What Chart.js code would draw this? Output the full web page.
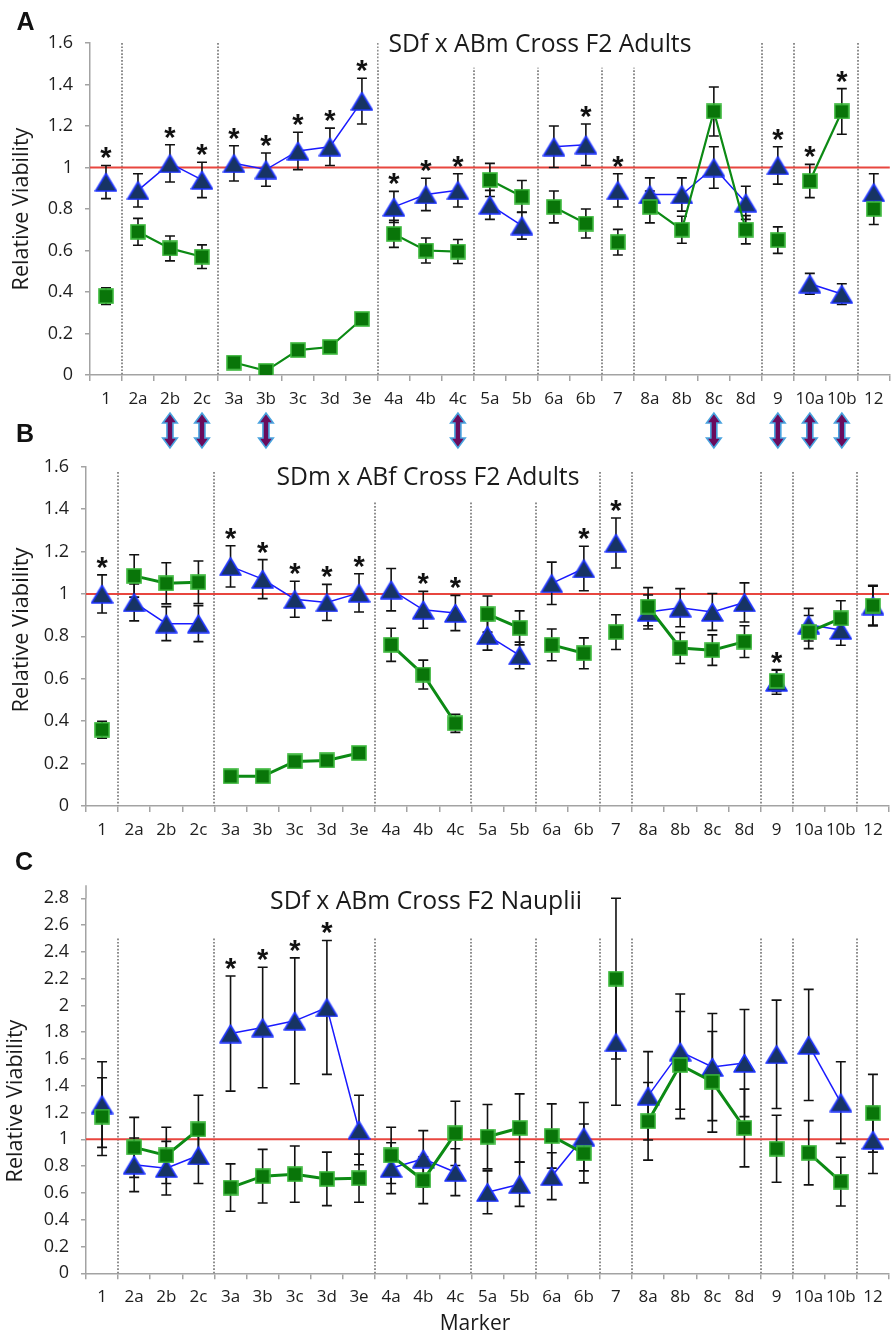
<!DOCTYPE html>
<html><head><meta charset="utf-8">
<script src="https://cdn.jsdelivr.net/npm/chart.js@4.4.0/dist/chart.umd.min.js"></script>
<style>
html,body{margin:0;padding:0;background:#fff;overflow:hidden;width:895px;height:1332px;position:relative;}
canvas{position:absolute;left:0;top:0;}
</style></head><body>
<canvas id="cA" width="900" height="1332" style="width:900px;height:1332px"></canvas>
<canvas id="cB" width="900" height="1332" style="width:900px;height:1332px"></canvas>
<canvas id="cC" width="900" height="1332" style="width:900px;height:1332px"></canvas>
<script>
// ---------- data ----------
const markers = ['1','2a','2b','2c','3a','3b','3c','3d','3e','4a','4b','4c','5a','5b','6a','6b','7','8a','8b','8c','8d','9','10a','10b','12'];

// Panel A: SDf x ABm Cross F2 Adults
const aBlue    = [0.93,0.89,1.02,0.94,1.02,0.99,1.08,1.10,1.32,0.81,0.87,0.89,0.82,0.72,1.10,1.11,0.89,0.87,0.87,1.00,0.83,1.01,0.44,0.39,0.88];
const aBlueErr = [0.08,0.08,0.09,0.085,0.085,0.08,0.09,0.09,0.11,0.075,0.078,0.08,0.07,0.065,0.10,0.10,0.08,0.08,0.08,0.10,0.08,0.09,0.05,0.05,0.09];
const aGreen   = [0.38,0.69,0.61,0.57,0.06,0.02,0.12,0.135,0.27,0.68,0.60,0.595,0.94,0.86,0.81,0.73,0.64,0.81,0.70,1.27,0.70,0.65,0.935,1.27,0.80];
const aGreenErr= [0.04,0.065,0.06,0.057,0.012,0.01,0.015,0.015,0.028,0.065,0.06,0.058,0.08,0.077,0.077,0.07,0.062,0.077,0.065,0.118,0.068,0.064,0.08,0.11,0.075];
const aStars   = ['1','2b','2c','3a','3b','3c','3d','3e','4a','4b','4c','6b','7','9','10a','10b'];

// Panel B: SDm x ABf Cross F2 Adults
const bBlue    = [1.00,0.96,0.86,0.86,1.13,1.07,0.975,0.96,1.005,1.02,0.925,0.91,0.805,0.71,1.05,1.12,1.24,0.915,0.935,0.915,0.96,0.585,0.855,0.83,0.945];
const bBlueErr = [0.09,0.087,0.08,0.085,0.097,0.092,0.085,0.085,0.09,0.10,0.087,0.083,0.07,0.063,0.10,0.105,0.118,0.08,0.09,0.087,0.092,0.058,0.077,0.072,0.092];
const bGreen   = [0.36,1.085,1.05,1.055,0.14,0.14,0.21,0.215,0.25,0.76,0.62,0.39,0.905,0.84,0.76,0.72,0.82,0.94,0.745,0.735,0.775,0.59,0.82,0.885,0.945];
const bGreenErr= [0.04,0.10,0.097,0.10,0.008,0.008,0.008,0.008,0.01,0.078,0.068,0.043,0.085,0.08,0.075,0.073,0.082,0.09,0.073,0.072,0.075,0.05,0.078,0.083,0.096];
const bStars   = ['1','3a','3b','3c','3d','3e','4b','4c','6b','7','9'];

// Panel C: SDf x ABm Cross F2 Nauplii
const cBlue    = [1.26,0.81,0.785,0.88,1.79,1.835,1.885,1.985,1.07,0.785,0.855,0.755,0.605,0.665,0.725,1.02,1.725,1.325,1.655,1.54,1.57,1.635,1.705,1.275,0.995];
const cBlueErr = [0.32,0.20,0.20,0.21,0.43,0.45,0.47,0.50,0.26,0.19,0.21,0.175,0.16,0.165,0.175,0.255,0.47,0.33,0.43,0.40,0.40,0.405,0.415,0.305,0.25];
const cGreen   = [1.17,0.94,0.88,1.075,0.64,0.725,0.74,0.705,0.71,0.88,0.695,1.045,1.02,1.085,1.025,0.895,2.20,1.135,1.555,1.43,1.085,0.93,0.90,0.685,1.195];
const cGreenErr= [0.29,0.224,0.21,0.255,0.177,0.20,0.21,0.20,0.18,0.21,0.175,0.24,0.24,0.255,0.24,0.22,0.60,0.29,0.40,0.376,0.29,0.25,0.24,0.182,0.29];
const cStars   = ['3a','3b','3c','3d'];

// markers flagged with double arrows between panels A and B
const arrowMarkers = ['2b','2c','3b','4c','8c','9','10a','10b'];

const titles = ['SDf x ABm Cross F2 Adults','SDm x ABf Cross F2 Adults','SDf x ABm Cross F2 Nauplii'];
const yTitle = 'Relative Viability';
const xTitle = 'Marker';
const yMaxAB = 1.6, yMaxC = 2.8, yStep = 0.2, refLine = 1;

// ---------- styling / layout ----------
const groups = markers.map(m => parseInt(m, 10));
const FONT = '"Open Sans", "DejaVu Sans", sans-serif';
const BLUE_LINE = '#1a1aff', BLUE_FILL = '#173464', BLUE_EDGE = '#1f35ff';
const GREEN_LINE = '#0c8a14', GREEN_FILL = '#097509', GREEN_EDGE = '#3cb83c';
const AXIS = '#a3a3a3';

function triImg(w, h) {
  const c = document.createElement('canvas'); c.width = w; c.height = h;
  const g = c.getContext('2d');
  g.beginPath(); g.moveTo(w / 2, 1.5); g.lineTo(w - 1, h - 1); g.lineTo(1, h - 1); g.closePath();
  g.fillStyle = BLUE_FILL; g.fill(); g.lineWidth = 1.6; g.strokeStyle = BLUE_EDGE; g.lineJoin = 'round'; g.stroke();
  return c;
}
function sqImg(s) {
  const c = document.createElement('canvas'); c.width = s; c.height = s;
  const g = c.getContext('2d');
  g.fillStyle = GREEN_FILL; g.fillRect(1, 1, s - 2, s - 2);
  g.lineWidth = 1.6; g.strokeStyle = GREEN_EDGE; g.strokeRect(1, 1, s - 2, s - 2);
  return c;
}

const panels = [
  {id:'cA', letter:'A', letterPos:[16.5,30], area:{left:90,right:898,top:43,bottom:375}, yMax:yMaxAB,
   blue:aBlue, blueErr:aBlueErr, green:aGreen, greenErr:aGreenErr, stars:aStars, title:titles[0],
   titleX:540, titleBase:51.7, titleW:303, yTitleX:22, yTitleY:209, yTitleLen:163, sepTop:1.6, greenLW:2.2, arrows:true},
  {id:'cB', letter:'B', letterPos:[16,441.7], area:{left:86,right:896.7,top:466.7,bottom:806}, yMax:yMaxAB,
   blue:bBlue, blueErr:bBlueErr, green:bGreen, greenErr:bGreenErr, stars:bStars, title:titles[1],
   titleX:428, titleBase:485, titleW:303, yTitleX:22, yTitleY:630, yTitleLen:165, sepTop:1.575, greenLW:3},
  {id:'cC', letter:'C', letterPos:[15,870], area:{left:86,right:891,top:898.3,bottom:1273.3}, yMax:yMaxC,
   blue:cBlue, blueErr:cBlueErr, green:cGreen, greenErr:cGreenErr, stars:cStars, title:titles[2],
   titleX:426, titleBase:909, titleW:312, yTitleX:16, yTitleY:1101, yTitleLen:163, sepTop:2.5, greenLW:3, axisExt:13, xTitle:true}
];

function fitFont(ctx, text, target, base, weight) {
  ctx.font = (weight || '') + ' ' + base + 'px ' + FONT;
  const w = ctx.measureText(text).width;
  const size = base * target / w;
  ctx.font = (weight || '') + ' ' + size + 'px ' + FONT;
  return size;
}

function makeChart(p) {
  const XH = 40;
  const segCol = col => ctx => groups[ctx.p0DataIndex] === groups[ctx.p1DataIndex] ? col : 'rgba(0,0,0,0)';
  const deco = {
    id: 'deco' + p.id,
    beforeDatasetsDraw(chart) {
      const ctx = chart.ctx, xs = chart.scales.x, ys = chart.scales.y, ca = chart.chartArea;
      ctx.save();
      // dotted group separators
      ctx.strokeStyle = '#8e8e8e'; ctx.lineWidth = 2; ctx.setLineDash([1.7, 1.7]);
      for (let i = 0; i < markers.length - 1; i++) {
        if (groups[i] === groups[i + 1]) continue;
        const x = Math.round((xs.getPixelForValue(i) + xs.getPixelForValue(i + 1)) / 2);
        ctx.beginPath(); ctx.moveTo(x, ys.getPixelForValue(p.sepTop)); ctx.lineTo(x, ca.bottom); ctx.stroke();
      }
      ctx.setLineDash([]);
      // title with white box
      fitFont(ctx, p.title, p.titleW, 24);
      const tw = ctx.measureText(p.title).width;
      ctx.fillStyle = '#fff';
      ctx.fillRect(p.titleX - tw / 2 - 10, p.titleBase - 30, tw + 20, 46);
      ctx.fillStyle = '#1a1a1a'; ctx.textAlign = 'center'; ctx.textBaseline = 'alphabetic';
      ctx.fillText(p.title, p.titleX, p.titleBase);
      // reference line at 1
      const yr = ys.getPixelForValue(refLine);
      ctx.strokeStyle = '#e8463f'; ctx.lineWidth = 2;
      ctx.beginPath(); ctx.moveTo(ca.left, yr); ctx.lineTo(ca.right, yr); ctx.stroke();
      // error bars
      ctx.strokeStyle = '#111'; ctx.lineWidth = 1.6;
      [[p.blue, p.blueErr], [p.green, p.greenErr]].forEach(([vals, errs]) => {
        vals.forEach((v, i) => {
          const x = xs.getPixelForValue(i);
          const y1 = ys.getPixelForValue(v + errs[i]), y2 = ys.getPixelForValue(v - errs[i]);
          ctx.beginPath();
          ctx.moveTo(x, y1); ctx.lineTo(x, y2);
          ctx.moveTo(x - 5, y1); ctx.lineTo(x + 5, y1);
          ctx.moveTo(x - 5, y2); ctx.lineTo(x + 5, y2);
          ctx.stroke();
        });
      });
      ctx.restore();
    },
    afterDatasetsDraw(chart) {
      const ctx = chart.ctx, xs = chart.scales.x, ys = chart.scales.y;
      ctx.save();
      ctx.font = 'bold 29px "Liberation Sans", Arial, sans-serif';
      ctx.fillStyle = '#111'; ctx.textAlign = 'center'; ctx.textBaseline = 'alphabetic';
      const m = ctx.measureText('*');
      const half = (m.actualBoundingBoxAscent - m.actualBoundingBoxDescent) / 2;
      p.stars.forEach(lab => {
        const i = markers.indexOf(lab);
        const top = Math.max(p.blue[i] + p.blueErr[i], p.green[i] + p.greenErr[i]);
        const yc = ys.getPixelForValue(top) - 12;
        ctx.fillText('*', xs.getPixelForValue(i), yc + half);
      });
      ctx.restore();
    },
    afterDraw(chart) {
      const ctx = chart.ctx, xs = chart.scales.x, ca = chart.chartArea;
      ctx.save();
      // panel letter
      ctx.font = 'bold 25px "Liberation Sans", Arial, sans-serif';
      ctx.fillStyle = '#111'; ctx.textAlign = 'left'; ctx.textBaseline = 'alphabetic';
      ctx.fillText(p.letter, p.letterPos[0], p.letterPos[1]);
      // y title
      ctx.translate(p.yTitleX, p.yTitleY); ctx.rotate(-Math.PI / 2);
      fitFont(ctx, yTitle, p.yTitleLen, 20);
      ctx.fillStyle = '#1a1a1a'; ctx.textAlign = 'center'; ctx.textBaseline = 'middle';
      ctx.fillText(yTitle, 0, 0);
      ctx.setTransform(1, 0, 0, 1, 0, 0);
      if (p.axisExt) {
        ctx.strokeStyle = AXIS; ctx.lineWidth = 1.5;
        ctx.beginPath(); ctx.moveTo(ca.left, ca.top); ctx.lineTo(ca.left, ca.top - p.axisExt); ctx.stroke();
      }
      if (p.xTitle) {
        ctx.font = '21px ' + FONT; ctx.fillStyle = '#1a1a1a'; ctx.textAlign = 'center'; ctx.textBaseline = 'alphabetic';
        ctx.fillText(xTitle, 475, 1330);
      }
      if (p.arrows) {
        const yT = 413, yB = 448, hw = 7.3, sw = 3, hh = 10;
        arrowMarkers.forEach(lab => {
          const x = xs.getPixelForValue(markers.indexOf(lab));
          ctx.beginPath();
          ctx.moveTo(x, yT); ctx.lineTo(x + hw, yT + hh); ctx.lineTo(x + sw, yT + hh);
          ctx.lineTo(x + sw, yB - hh); ctx.lineTo(x + hw, yB - hh); ctx.lineTo(x, yB);
          ctx.lineTo(x - hw, yB - hh); ctx.lineTo(x - sw, yB - hh); ctx.lineTo(x - sw, yT + hh);
          ctx.lineTo(x - hw, yT + hh); ctx.closePath();
          ctx.fillStyle = '#6a0b5c'; ctx.fill();
          ctx.strokeStyle = '#49a3df'; ctx.lineWidth = 1.6; ctx.lineJoin = 'miter'; ctx.stroke();
        });
      }
      ctx.restore();
    }
  };

  return new Chart(document.getElementById(p.id), {
    type: 'line',
    data: {
      labels: markers,
      datasets: [
        {label: 'green', data: p.green, order: 0, borderColor: GREEN_LINE, borderWidth: p.greenLW,
         pointStyle: sqImg(16), pointRadius: 8, segment: {borderColor: segCol(GREEN_LINE)}, tension: 0},
        {label: 'blue', data: p.blue, order: 1, borderColor: BLUE_LINE, borderWidth: 1.5,
         pointStyle: triImg(23, 20), pointRadius: 8, segment: {borderColor: segCol(BLUE_LINE)}, tension: 0}
      ]
    },
    options: {
      responsive: false, animation: false, devicePixelRatio: 1,
      layout: {padding: {left: 0, right: 900 - p.area.right, top: p.area.top, bottom: 1332 - p.area.bottom - XH}},
      plugins: {legend: {display: false}, tooltip: {enabled: false}, title: {display: false}},
      scales: {
        x: {
          type: 'category', offset: true,
          grid: {offset: true, drawOnChartArea: false, drawTicks: true, tickLength: 6, color: AXIS, lineWidth: 1.5},
          border: {color: AXIS, width: 1.5},
          ticks: {autoSkip: false, maxRotation: 0, minRotation: 0, padding: 8, color: '#1e1e1e', font: {family: FONT, size: 17}},
          afterFit: s => { s.height = XH; }
        },
        y: {
          min: 0, max: p.yMax,
          ticks: {stepSize: yStep, padding: 12, color: '#1e1e1e', font: {family: FONT, size: 18},
                  callback: v => String(Math.round(v * 10) / 10)},
          grid: {drawOnChartArea: false, drawTicks: true, tickLength: 5, color: AXIS, lineWidth: 1.5},
          border: {color: AXIS, width: 1.5},
          afterFit: s => { s.width = p.area.left; }
        }
      }
    },
    plugins: [deco]
  });
}

function init() { panels.forEach(makeChart); }
const fontReady = (document.fonts && document.fonts.load)
  ? Promise.all([document.fonts.load('17px "Open Sans"'), document.fonts.load('bold 24px "Liberation Sans"')]).catch(() => {})
  : Promise.resolve();
Promise.race([fontReady, new Promise(r => setTimeout(r, 800))]).then(init);
</script>
</body></html>
